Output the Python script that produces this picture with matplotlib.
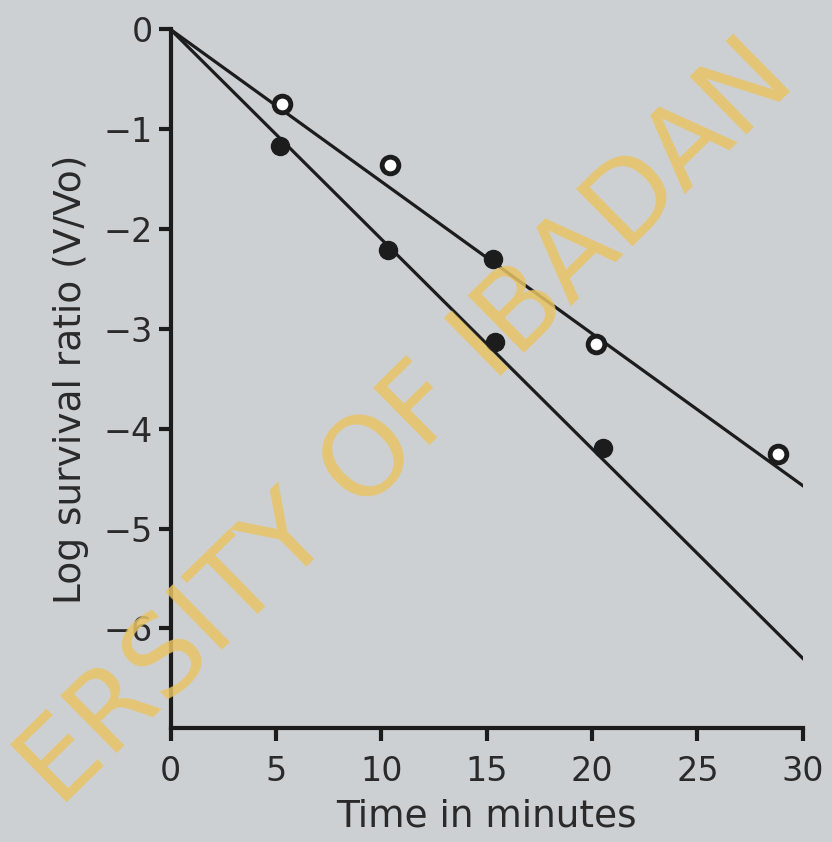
import matplotlib
matplotlib.use("Agg")
import matplotlib.pyplot as plt

# Data
open_x = [5.3, 10.4, 20.2, 28.8]
open_y = [-0.75, -1.36, -3.15, -4.25]
upper_filled_x = [15.3]
upper_filled_y = [-2.30]
filled_x = [5.2, 10.3, 15.4, 20.5]
filled_y = [-1.17, -2.21, -3.13, -4.19]
upper_line_x = [0, 30]
upper_line_y = [0, -4.57]
lower_line_x = [0, 30]
lower_line_y = [0, -6.30]
x_ticks = [0, 5, 10, 15, 20, 25, 30]
y_ticks = [0, -1, -2, -3, -4, -5, -6]

bg = '#cdd0d3'
ink = '#1c1c1c'

fig = plt.figure(figsize=(8.32, 8.42), dpi=100, facecolor=bg)
ax = fig.add_axes([0.205, 0.135, 0.76, 0.83], facecolor=bg)

ax.plot(upper_line_x, upper_line_y, color=ink, lw=2.3, zorder=2)
ax.plot(lower_line_x, lower_line_y, color=ink, lw=2.3, zorder=2)
ax.plot(open_x, open_y, 'o', ms=12, mfc='white', mec=ink, mew=3.5, zorder=3)
ax.plot(upper_filled_x, upper_filled_y, 'o', ms=13, mfc=ink, mec=ink, zorder=3)
ax.plot(filled_x, filled_y, 'o', ms=13, mfc=ink, mec=ink, zorder=3)

ax.set_xlim(0, 30)
ax.set_ylim(-7, 0)
ax.set_xticks(x_ticks)
ax.set_yticks(y_ticks)
ax.set_xticklabels([str(v) for v in x_ticks])
ax.set_yticklabels([('−%d' % -v) if v < 0 else '0' for v in y_ticks])

for s in ['top', 'right']:
    ax.spines[s].set_visible(False)
for s in ['left', 'bottom']:
    ax.spines[s].set_linewidth(3)
    ax.spines[s].set_color(ink)

ax.tick_params(axis='both', direction='out', length=9, width=3, color=ink,
               labelsize=24, labelcolor='#2a2a2a', pad=4)
ax.tick_params(axis='x', pad=10)
ax.set_xlabel('Time in minutes', fontsize=27, color='#2a2a2a', labelpad=8)
ax.set_ylabel('Log survival ratio (V/Vo)', fontsize=27, color='#2a2a2a', labelpad=10)

# watermark (visible part only)
fig.text(0.49, 0.495, 'ERSITY OF IBADAN', fontsize=80, color='#e8c464',
         alpha=0.85, rotation=44.5, rotation_mode='anchor', ha='center', va='center',
         zorder=10)

fig.savefig('out.png', dpi=100, facecolor=bg)
